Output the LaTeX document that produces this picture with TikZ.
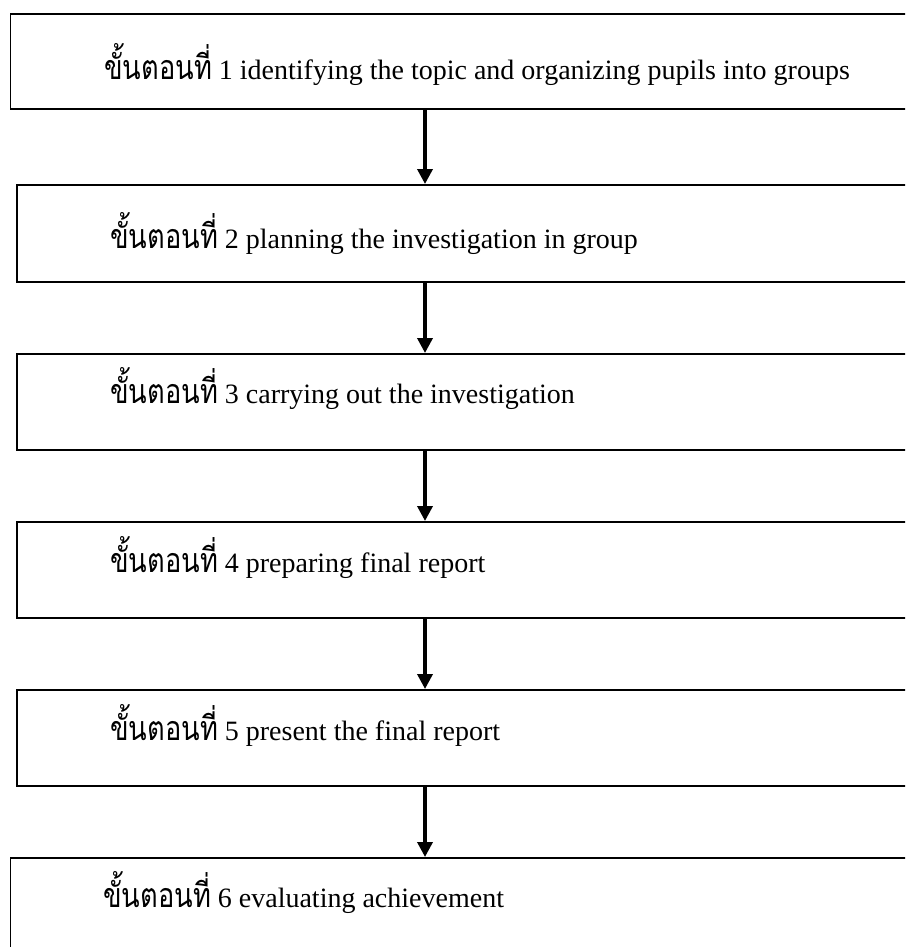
\documentclass[tikz,border=0pt]{standalone}
\usepackage{fontspec}
\setmainfont{Liberation Serif}
\newfontfamily\thai[Script=Thai, FakeStretch=0.8]{Loma}
\usetikzlibrary{arrows.meta}
\tikzset{
  stepbox/.style={draw=black, line width=1.8pt, rectangle, anchor=north west,
    minimum width=930pt, minimum height=95pt, inner sep=0pt},
  steptext/.style={anchor=base west, inner sep=0pt,
    font=\fontsize{28}{34}\selectfont},
  flowarrow/.style={line width=3.5pt, -{Triangle[length=15pt,width=15pt]}}
}
\newcommand{\steplabel}{{\thai\fontsize{34}{40}\selectfont ขั้นตอนที่}}
\begin{document}
\begin{tikzpicture}[x=1pt,y=-1pt]
\clip (0,0) rectangle (905,947);
\fill[white] (0,0) rectangle (905,947);
\node[stepbox] (b1) at (9.5,13) {};
\node[stepbox, minimum height=97pt] (b2) at (16,184) {};
\node[stepbox, minimum height=96pt] (b3) at (16,353) {};
\node[stepbox, minimum height=96pt] (b4) at (16,521) {};
\node[stepbox, minimum height=96pt] (b5) at (16,689) {};
\node[stepbox, minimum height=110pt] (b6) at (9.5,857) {};
\node[steptext] (t1) at (104,80) {\steplabel\ 1 identifying the topic and organizing pupils into groups};
\node[steptext] (t2) at (110,248) {\steplabel\ 2 planning the investigation in group};
\node[steptext] (t3) at (110,403) {\steplabel\ 3 carrying out the investigation};
\node[steptext] (t4) at (110,572) {\steplabel\ 4 preparing final report};
\node[steptext] (t5) at (110,740) {\steplabel\ 5 present the final report};
\node[steptext] (t6) at (103,907) {\steplabel\ 6 evaluating achievement};
\coordinate (ax) at (425,0);
\draw[flowarrow] (b1.south -| ax) -- (b2.north -| ax);
\draw[flowarrow] (b2.south -| ax) -- (b3.north -| ax);
\draw[flowarrow] (b3.south -| ax) -- (b4.north -| ax);
\draw[flowarrow] (b4.south -| ax) -- (b5.north -| ax);
\draw[flowarrow] (b5.south -| ax) -- (b6.north -| ax);
\end{tikzpicture}
\end{document}
